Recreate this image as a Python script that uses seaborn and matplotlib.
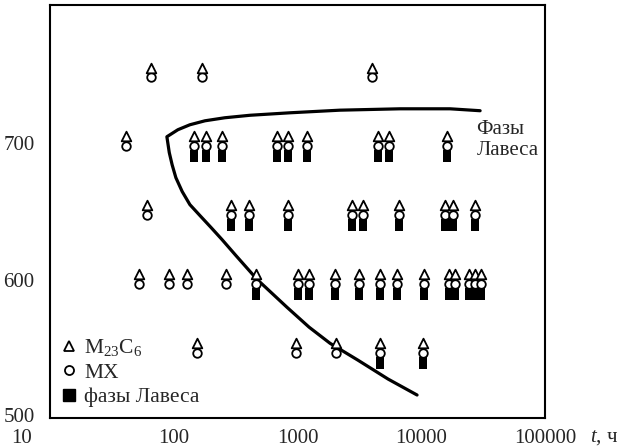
import numpy as np
import pandas as pd
import matplotlib
matplotlib.use("Agg")
import matplotlib.pyplot as plt
import seaborn as sns
from matplotlib.lines import Line2D
from matplotlib.transforms import ScaledTranslation

# --- Données : temps d'exposition (ч) pour chaque température (°C) ---
temps = [750, 700, 650, 600, 550]
times_750 = [66, 170, 4000]
times_700 = [41, 145, 181, 247, 689, 840, 1183, 4460, 5530, 16100]
times_650 = [61, 292, 405, 840, 2740, 3370, 6550, 15500, 18100, 27000]
times_600 = [52, 91, 127, 266, 465, 1000, 1245, 2020, 3160, 4680, 6350,
             10600, 16700, 18600, 24300, 27000, 30600]
times_550 = [155, 968, 2050, 4680, 10300]

# точки, где найдены фазы Лавеса
laves_750 = []
laves_700 = [145, 181, 247, 689, 840, 1183, 4460, 5530, 16100]
laves_650 = [292, 405, 840, 2740, 3370, 6550, 15500, 18100, 27000]
laves_600 = [465, 1000, 1245, 2020, 3160, 4680, 6350, 10600, 16700, 18600,
             24300, 27000, 30600]
laves_550 = [4680, 10300]

# граница области фаз Лавеса (верхняя ветвь справа налево, затем нижняя)
curve_t = [29900, 17100, 6730, 2200, 869, 413, 259, 179, 135, 108, 88,
           92, 97, 104, 117, 135, 163, 200, 245, 318, 471, 823, 1240, 1830,
           3080, 5390, 9250]
curve_T = [723.2, 724.6, 724.6, 723.6, 721.7, 719.9, 718.1, 715.9, 713, 709.4, 704.3,
           692.8, 684, 674.6, 664.5, 655, 647, 638.4, 629.7, 618, 600.7, 580.4, 566, 554.3,
           542, 528.3, 516.7]

xticks = [10, 100, 1000, 10000, 100000]
xtick_labels = ["10", "100", "1000", "10000", "100000"]
yticks = [500, 600, 700]

# --- Mise en forme ---
sns.set_style("white")
plt.rcParams["font.family"] = ["Liberation Serif", "DejaVu Serif"]
plt.rcParams["mathtext.fontset"] = "custom"
plt.rcParams["mathtext.rm"] = "Liberation Serif"
plt.rcParams["mathtext.it"] = "Liberation Serif:italic"

all_times = [times_750, times_700, times_650, times_600, times_550]
all_laves = [laves_750, laves_700, laves_650, laves_600, laves_550]
carb = pd.DataFrame([(t, T) for T, ts in zip(temps, all_times) for t in ts],
                    columns=["t", "T"])
lav = pd.DataFrame([(t, T) for T, ts in zip(temps, all_laves) for t in ts],
                   columns=["t", "T"])
curve = pd.DataFrame({"t": curve_t, "T": curve_T})

# décalages verticaux des symboles (°C)
DT_TRI, DT_CIRC, DT_SQ = 4.5, -2.5, -10.0

fig = plt.figure(figsize=(6.2, 4.48), dpi=100)
ax = fig.add_axes([50 / 620, 30 / 448, 495 / 620, 413 / 448])
ax.set_xscale("log")

rect = [(-0.72, -1), (0.72, -1), (0.72, 1), (-0.72, 1), (-0.72, -1)]
sns.lineplot(data=curve, x="t", y="T", sort=False, estimator=None,
             color="black", lw=2.3, ax=ax, zorder=1)
sns.scatterplot(x=lav["t"], y=lav["T"] + DT_SQ, marker=rect, s=75,
                color="black", edgecolor="black", linewidth=0, ax=ax, zorder=2)
sns.scatterplot(x=carb["t"], y=carb["T"] + DT_CIRC, marker="o", s=38,
                facecolor="white", edgecolor="black", linewidth=1.3, ax=ax, zorder=3)
sns.scatterplot(x=carb["t"], y=carb["T"] + DT_TRI, marker="^", s=48,
                facecolor="white", edgecolor="black", linewidth=1.3, ax=ax, zorder=4)

ax.set_xlim(10, 100000)
ax.set_ylim(500, 800)
ax.set_xticks(xticks, labels=xtick_labels)
ax.minorticks_off()
ax.set_yticks(yticks)
ax.tick_params(direction="in", length=7, width=1.2, labelsize=15,
               top=False, right=False)
ax.tick_params(axis="x", pad=8)
ax.tick_params(axis="y", pad=11)
for sp in ax.spines.values():
    sp.set_color("black")
    sp.set_linewidth(1.5)

# сдвиг подписи "10" влево, как в оригинале
lbl = ax.get_xticklabels()[0]
lbl.set_transform(lbl.get_transform() + ScaledTranslation(-0.28, 0, fig.dpi_scale_trans))
ylbl = ax.get_yticklabels()[0]
ylbl.set_transform(ylbl.get_transform() + ScaledTranslation(0, 0.03, fig.dpi_scale_trans))

ax.set_xlabel("$t$, ч", fontsize=15, ha="left", va="center")
ax.set_ylabel("")
ax.xaxis.set_label_coords(1.09, -0.047)

ax.text(28000, 702, "Фазы\nЛавеса", fontsize=15, ha="left", va="center",
        linespacing=1.2)

handles = [
    Line2D([], [], ls="", marker="^", ms=7, mfc="white", mec="black", mew=1.3),
    Line2D([], [], ls="", marker="o", ms=6.5, mfc="white", mec="black", mew=1.3),
    Line2D([], [], ls="", marker="s", ms=8, mfc="black", mec="black"),
]
ax.legend(handles, ["M$_{23}$C$_6$", "MX", "фазы Лавеса"], loc="lower left",
          frameon=False, fontsize=15.5, handlelength=0.8, handletextpad=0.3,
          labelspacing=0.2, borderaxespad=0.2, borderpad=0.3)

fig.savefig("out.png", dpi=100)
